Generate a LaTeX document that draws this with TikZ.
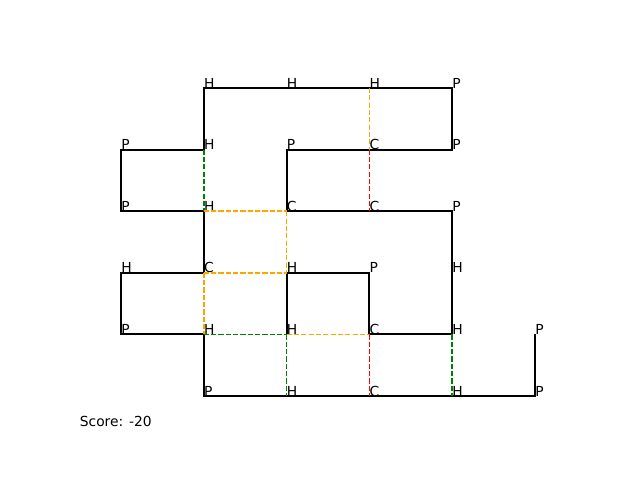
\documentclass[tikz,border=0pt]{standalone}
\usepackage{fontspec}
\setmainfont{DejaVu Sans}
\usepackage{xcolor}
\definecolor{mplorange}{HTML}{FFA500}
\definecolor{mplgreen}{HTML}{008000}
\definecolor{mplred}{HTML}{FF0000}

\begin{document}
\begin{tikzpicture}[x=0.828in,y=0.616in,
  res/.style={anchor=base west,inner sep=0pt,font=\fontsize{10}{12}\selectfont},
  bond/.style={line width=1.5pt,line join=miter},
  contact/.style={line width=1.1pt,dash pattern=on 3.7pt off 1.6pt}]
\useasboundingbox (-1.4614,-1.3636) rectangle (6.2681,6.4286);
% residues
\node[res] (r1) at (5,1) {P};
\node[res] (r2) at (5,0) {P};
\node[res] (r3) at (4,0) {H};
\node[res] (r4) at (3,0) {C};
\node[res] (r5) at (2,0) {H};
\node[res] (r6) at (1,0) {P};
\node[res] (r7) at (1,1) {H};
\node[res] (r8) at (0,1) {P};
\node[res] (r9) at (0,2) {H};
\node[res] (r10) at (1,2) {C};
\node[res] (r11) at (1,3) {H};
\node[res] (r12) at (0,3) {P};
\node[res] (r13) at (0,4) {P};
\node[res] (r14) at (1,4) {H};
\node[res] (r15) at (1,5) {H};
\node[res] (r16) at (2,5) {H};
\node[res] (r17) at (3,5) {H};
\node[res] (r18) at (4,5) {P};
\node[res] (r19) at (4,4) {P};
\node[res] (r20) at (3,4) {C};
\node[res] (r21) at (2,4) {P};
\node[res] (r22) at (2,3) {C};
\node[res] (r23) at (3,3) {C};
\node[res] (r24) at (4,3) {P};
\node[res] (r25) at (4,2) {H};
\node[res] (r26) at (4,1) {H};
\node[res] (r27) at (3,1) {C};
\node[res] (r28) at (3,2) {P};
\node[res] (r29) at (2,2) {H};
\node[res] (r30) at (2,1) {H};
% chain
\draw[bond] (r1.base west) -- (r2.base west) -- (r3.base west) -- (r4.base west)
  -- (r5.base west) -- (r6.base west) -- (r7.base west) -- (r8.base west)
  -- (r9.base west) -- (r10.base west) -- (r11.base west) -- (r12.base west)
  -- (r13.base west) -- (r14.base west) -- (r15.base west) -- (r16.base west)
  -- (r17.base west) -- (r18.base west) -- (r19.base west) -- (r20.base west)
  -- (r21.base west) -- (r22.base west) -- (r23.base west) -- (r24.base west)
  -- (r25.base west) -- (r26.base west) -- (r27.base west) -- (r28.base west)
  -- (r29.base west) -- (r30.base west);
% contacts
\draw[contact,mplorange] (r17.base west) -- (r20.base west);
\draw[contact,mplred] (r20.base west) -- (r23.base west);
\draw[contact,mplgreen] (r14.base west) -- (r11.base west);
\draw[contact,mplorange] (r11.base west) -- (r22.base west);
\draw[contact,mplorange] (r22.base west) -- (r29.base west);
\draw[contact,mplorange] (r10.base west) -- (r29.base west);
\draw[contact,mplorange] (r10.base west) -- (r7.base west);
\draw[contact,mplgreen] (r7.base west) -- (r30.base west);
\draw[contact,mplgreen] (r30.base west) -- (r5.base west);
\draw[contact,mplorange] (r30.base west) -- (r27.base west);
\draw[contact,mplred] (r27.base west) -- (r4.base west);
\draw[contact,mplgreen] (r26.base west) -- (r3.base west);
\node[res] (score) at (-0.5,-0.5) {Score: -20};
\end{tikzpicture}
\end{document}
